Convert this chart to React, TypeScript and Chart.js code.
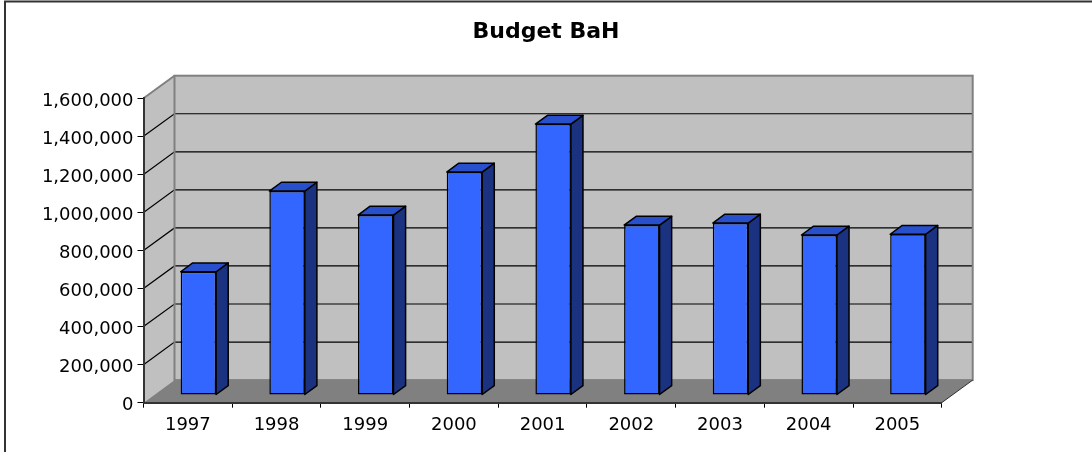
import React, { useEffect, useRef } from "react";
import { Chart, registerables } from "chart.js";

Chart.register(...registerables);

// ---- data ----
const chartTitle = "Budget BaH";
const categories = ["1997", "1998", "1999", "2000", "2001", "2002", "2003", "2004", "2005"];
const budget = [648000, 1072000, 946000, 1172000, 1424000, 893000, 904000, 841000, 845000];
const yTickValues = [0, 200000, 400000, 600000, 800000, 1000000, 1200000, 1400000, 1600000];

// ---- 3D look ----
const DEPTH_DX = 31;
const DEPTH_DY = -22.6;
const BAR_FRONT = 0.34;
const BAR_BACK = 0.73;

const FONT = "'DejaVu Sans', Verdana, sans-serif";

function poly(ctx: CanvasRenderingContext2D, pts: number[][]) {
  ctx.beginPath();
  ctx.moveTo(pts[0][0], pts[0][1]);
  for (let i = 1; i < pts.length; i++) ctx.lineTo(pts[i][0], pts[i][1]);
  ctx.closePath();
}

const threeD = {
  id: "threeD",
  beforeDraw(chart: any) {
    const { ctx, chartArea, scales } = chart;
    const { left: L, right: R, top: T, bottom: B } = chartArea;
    const ys = scales.y;
    const dx = DEPTH_DX;
    const dy = DEPTH_DY;
    ctx.save();
    ctx.fillStyle = "#ffffff";
    ctx.fillRect(0, 0, chart.width, chart.height);

    // back wall
    ctx.fillStyle = "#C0C0C0";
    ctx.fillRect(L + dx, T + dy, R - L, B - T);
    // left side wall
    poly(ctx, [[L, T], [L + dx, T + dy], [L + dx, B + dy], [L, B]]);
    ctx.fill();
    // floor
    ctx.fillStyle = "#808080";
    poly(ctx, [[L, B], [L + dx, B + dy], [R + dx, B + dy], [R, B]]);
    ctx.fill();

    // gridlines
    ctx.strokeStyle = "#000000";
    ctx.lineWidth = 1.2;
    const maxV = yTickValues[yTickValues.length - 1];
    yTickValues.forEach((v) => {
      if (v <= 0 || v >= maxV) return;
      const py = ys.getPixelForValue(v);
      ctx.beginPath();
      ctx.moveTo(L, py);
      ctx.lineTo(L + dx, py + dy);
      ctx.lineTo(R + dx, py + dy);
      ctx.stroke();
    });

    // wall edges
    ctx.strokeStyle = "#808080";
    ctx.lineWidth = 2;
    ctx.strokeRect(L + dx, T + dy, R - L, B - T);
    ctx.beginPath();
    ctx.moveTo(L, T);
    ctx.lineTo(L + dx, T + dy);
    ctx.stroke();
    ctx.strokeStyle = "#303030";
    ctx.lineWidth = 1;
    ctx.beginPath();
    ctx.moveTo(R, B);
    ctx.lineTo(R + dx, B + dy);
    ctx.stroke();
    ctx.restore();
  },
  beforeDatasetsDraw(chart: any) {
    const ctx = chart.ctx;
    ctx.save();
    ctx.translate(BAR_FRONT * DEPTH_DX, BAR_FRONT * DEPTH_DY);
  },
  afterDatasetsDraw(chart: any) {
    const ctx = chart.ctx;
    ctx.restore();
    const meta = chart.getDatasetMeta(0);
    const bdx = (BAR_BACK - BAR_FRONT) * DEPTH_DX;
    const bdy = (BAR_BACK - BAR_FRONT) * DEPTH_DY;
    ctx.save();
    ctx.translate(BAR_FRONT * DEPTH_DX, BAR_FRONT * DEPTH_DY);
    ctx.lineJoin = "round";
    ctx.strokeStyle = "#000000";
    ctx.lineWidth = 1.5;
    meta.data.forEach((bar: any) => {
      const { x, y, base, width } = bar.getProps(["x", "y", "base", "width"], true);
      const l = x - width / 2;
      const r = x + width / 2;
      // side
      poly(ctx, [[r, y], [r + bdx, y + bdy], [r + bdx, base + bdy], [r, base]]);
      ctx.fillStyle = "#1A3280";
      ctx.fill();
      ctx.stroke();
      // top
      poly(ctx, [[l, y], [l + bdx, y + bdy], [r + bdx, y + bdy], [r, y]]);
      ctx.fillStyle = "#2850CC";
      ctx.fill();
      ctx.stroke();
    });
    ctx.restore();
  },
  afterDraw(chart: any) {
    const ctx = chart.ctx;
    ctx.save();
    ctx.strokeStyle = "#333333";
    ctx.lineWidth = 2;
    ctx.strokeRect(5, 1.5, 3000, 3000);
    ctx.restore();
  },
};

export default function App() {
  const canvasRef = useRef<HTMLCanvasElement | null>(null);

  useEffect(() => {
    const canvas = canvasRef.current;
    if (!canvas) return;
    const chart = new Chart(canvas, {
      type: "bar",
      data: {
        labels: categories,
        datasets: [
          {
            label: chartTitle,
            data: budget,
            backgroundColor: "#3366FF",
            borderColor: "#000000",
            borderWidth: 1.5,
            borderSkipped: false,
            barPercentage: 0.4,
            categoryPercentage: 1,
          } as any,
        ],
      },
      options: {
        responsive: false,
        animation: false,
        events: [],
        clip: false as any,
        layout: { padding: { left: 0, right: 0, top: 0, bottom: 0 } },
        plugins: {
          legend: { display: false },
          tooltip: { enabled: false },
          title: {
            display: true,
            text: chartTitle,
            color: "#000000",
            font: { family: FONT, size: 22, weight: "bold" },
            padding: { top: 19, bottom: 52.9 },
          },
        },
        scales: {
          x: {
            type: "category",
            offset: true,
            grid: {
              offset: true,
              drawOnChartArea: false,
              drawTicks: true,
              tickLength: 5,
              color: "#000000",
            },
            border: { display: true, color: "#333333", width: 2 },
            ticks: {
              color: "#000000",
              font: { family: FONT, size: 18 },
              padding: 7,
              maxRotation: 0,
              autoSkip: false,
            },
            afterFit: (axis: any) => {
              axis.height = 49.3;
            },
          },
          y: {
            type: "linear",
            min: yTickValues[0],
            max: yTickValues[yTickValues.length - 1],
            afterBuildTicks: (axis: any) => {
              axis.ticks = yTickValues.map((v) => ({ value: v }));
            },
            grid: {
              drawOnChartArea: false,
              drawTicks: true,
              tickLength: 6,
              color: "#000000",
            },
            border: { display: true, color: "#333333", width: 2 },
            ticks: {
              color: "#000000",
              font: { family: FONT, size: 18 },
              padding: 4,
              labelOffset: 3,
              callback: (v: any) => Number(v).toLocaleString("en-US"),
            },
            afterFit: (axis: any) => {
              axis.width = 143.5;
            },
          },
          rightSpace: {
            type: "linear",
            position: "right",
            min: 0,
            max: 1,
            grid: { display: false },
            border: { display: false },
            ticks: { display: false },
            afterFit: (axis: any) => {
              axis.width = 150.3;
            },
          },
        },
      },
      plugins: [threeD],
    });
    return () => chart.destroy();
  }, []);

  return (
    <div style={{ position: "absolute", left: 0, top: 0, width: 1092, height: 452, background: "#fff" }}>
      <canvas ref={canvasRef} width={1092} height={452} style={{ display: "block" }} />
    </div>
  );
}
